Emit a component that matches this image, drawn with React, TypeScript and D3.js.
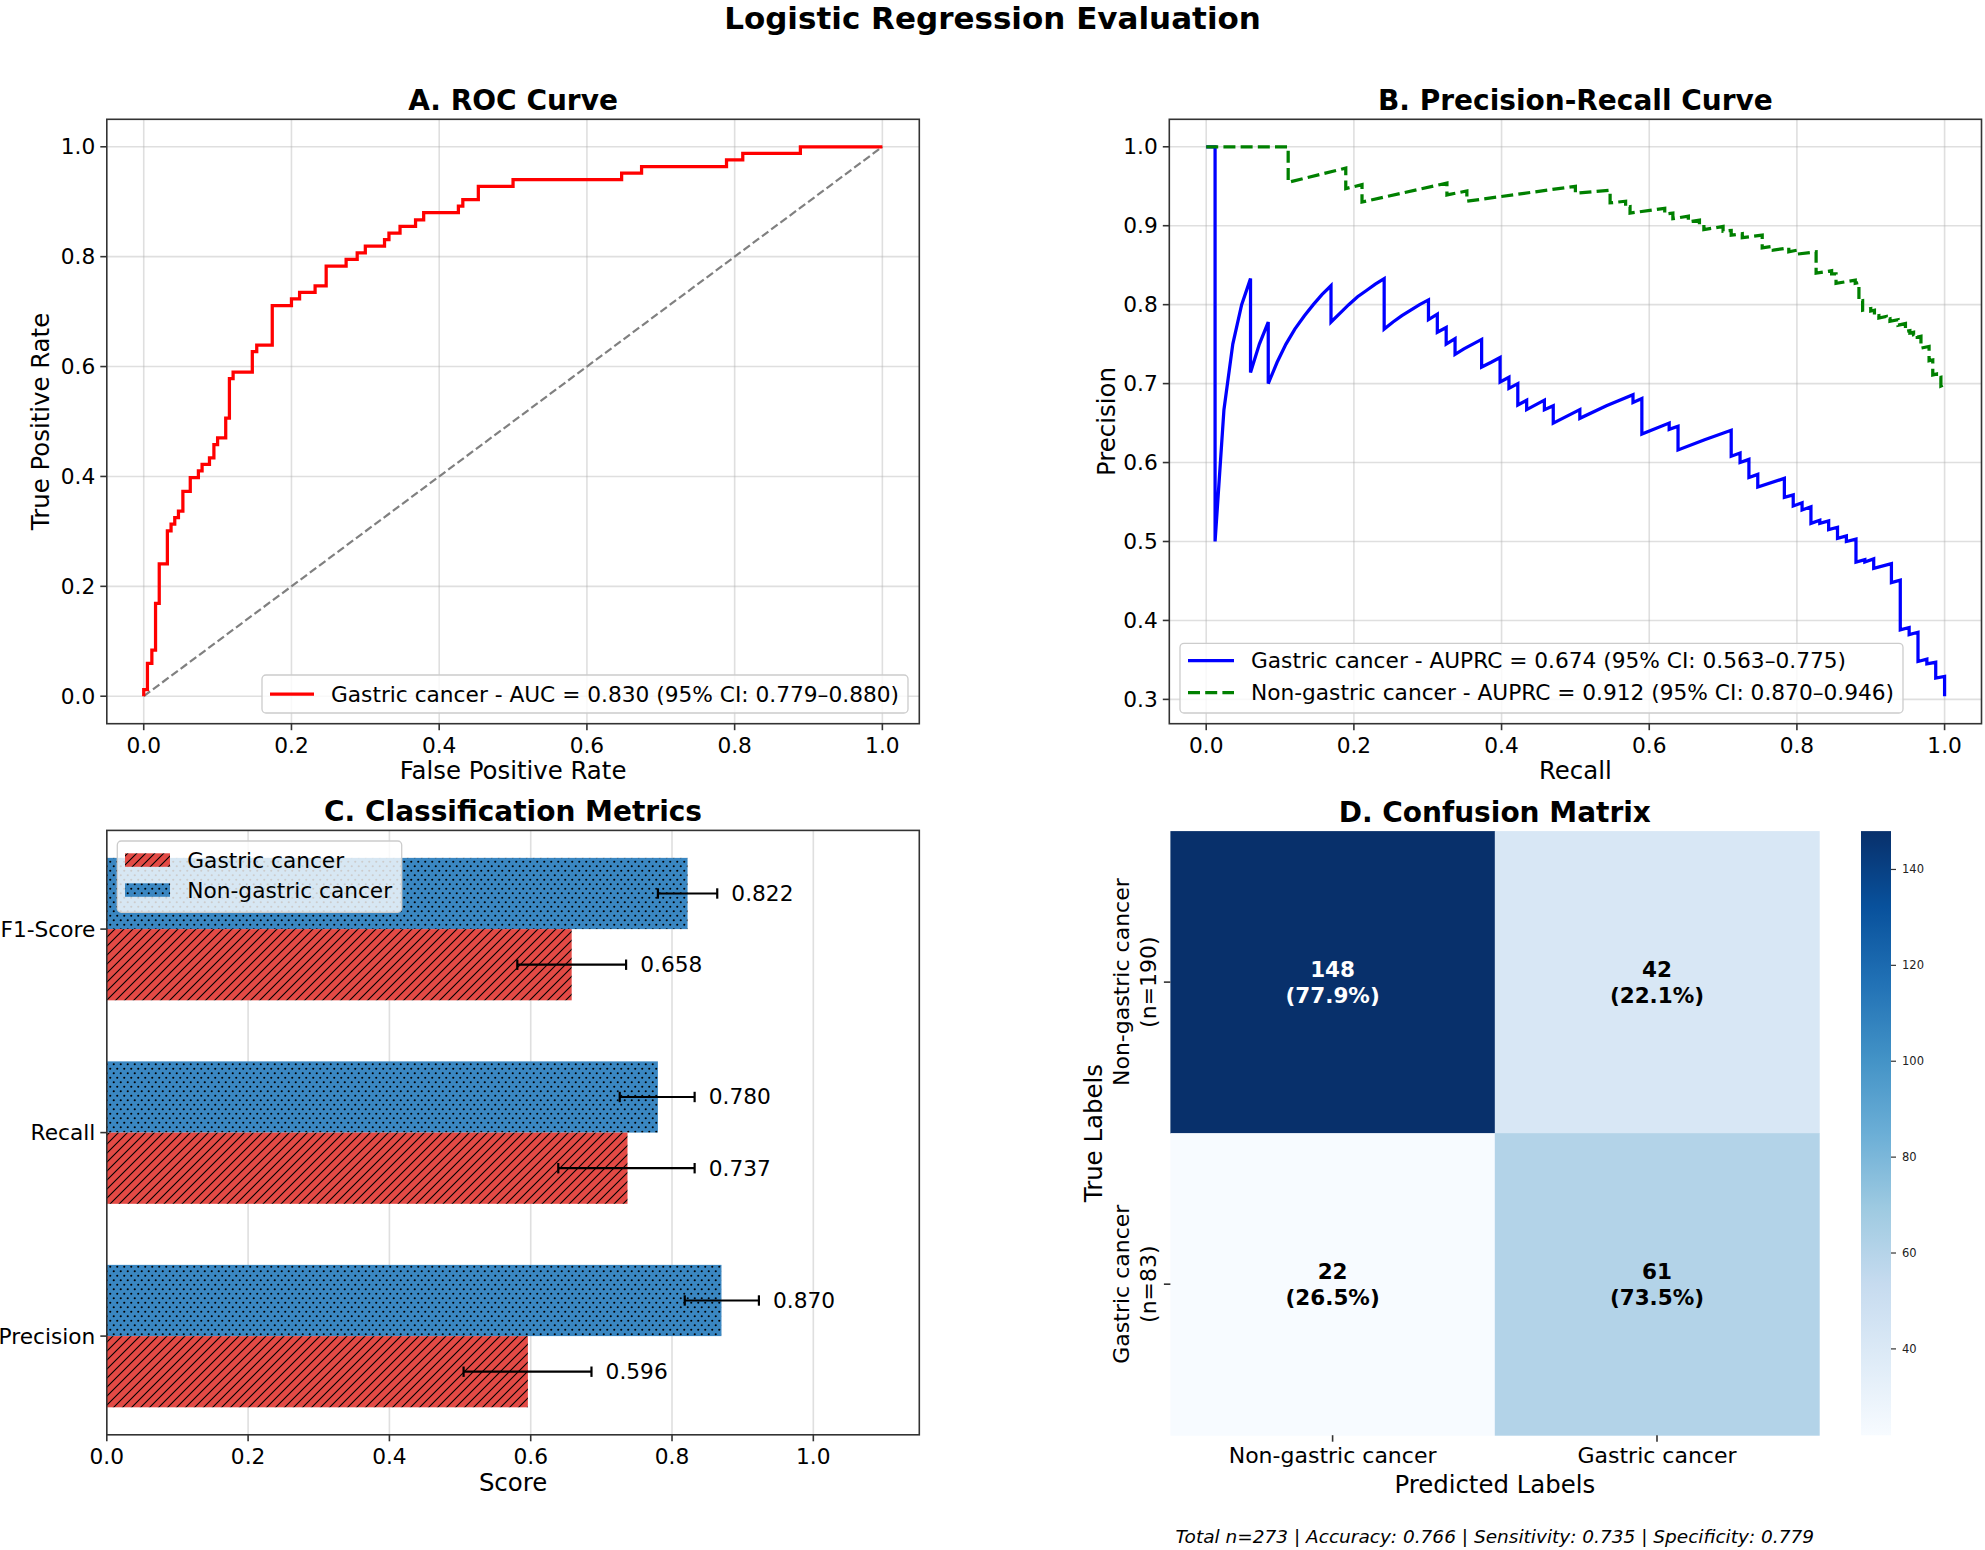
import React from 'react';
import * as d3 from 'd3';

const FONT = "'DejaVu Sans', 'Noto Sans', sans-serif";

// ---------- A. ROC curve (gastric cancer as positive class) ----------
// Each point is where the curve steps up; it then runs horizontally to the next FPR.
const rocFpr = [0.000, 0.000, 0.005, 0.011, 0.016, 0.021, 0.032, 0.037, 0.042, 0.047,
  0.053, 0.063, 0.074, 0.079, 0.089, 0.095, 0.100, 0.111, 0.116, 0.121,
  0.147, 0.153, 0.174, 0.200, 0.211, 0.232, 0.247, 0.274, 0.289, 0.300,
  0.326, 0.332, 0.347, 0.368, 0.379, 0.426, 0.432, 0.453, 0.500, 0.647,
  0.674, 0.789, 0.811, 0.889, 1.000];
const rocTpr = [0.000, 0.012, 0.060, 0.084, 0.169, 0.241, 0.301, 0.313, 0.325, 0.337,
  0.373, 0.398, 0.410, 0.422, 0.434, 0.458, 0.470, 0.506, 0.578, 0.590,
  0.627, 0.639, 0.711, 0.723, 0.735, 0.747, 0.783, 0.795, 0.807, 0.819,
  0.831, 0.843, 0.855, 0.867, 0.880, 0.892, 0.904, 0.928, 0.940, 0.952,
  0.964, 0.976, 0.988, 1.000, 1.000];
const rocLabel = 'Gastric cancer - AUC = 0.830 (95% CI: 0.779–0.880)';

// ---------- B. Precision-recall curves ----------
const prGastricRecall = [0.000, 0.012, 0.012, 0.024, 0.036, 0.048, 0.060, 0.060, 0.072, 0.084,
  0.084, 0.096, 0.108, 0.120, 0.133, 0.145, 0.157, 0.169, 0.169, 0.181,
  0.193, 0.205, 0.217, 0.229, 0.241, 0.241, 0.253, 0.265, 0.277, 0.289,
  0.301, 0.301, 0.313, 0.313, 0.325, 0.325, 0.337, 0.337, 0.349, 0.361,
  0.373, 0.373, 0.386, 0.398, 0.398, 0.410, 0.410, 0.422, 0.422, 0.434,
  0.434, 0.446, 0.458, 0.458, 0.470, 0.470, 0.506, 0.506, 0.542, 0.578,
  0.578, 0.590, 0.590, 0.627, 0.627, 0.639, 0.639, 0.675, 0.711, 0.711,
  0.723, 0.723, 0.735, 0.735, 0.747, 0.747, 0.783, 0.783, 0.795, 0.795,
  0.807, 0.807, 0.819, 0.819, 0.831, 0.831, 0.843, 0.843, 0.855, 0.855,
  0.867, 0.867, 0.880, 0.880, 0.892, 0.892, 0.904, 0.904, 0.928, 0.928,
  0.940, 0.940, 0.952, 0.952, 0.964, 0.964, 0.976, 0.976, 0.988, 0.988,
  1.000, 1.000];
const prGastricPrecision = [1.000, 1.000, 0.500, 0.667, 0.750, 0.800, 0.833, 0.714, 0.750, 0.778,
  0.700, 0.727, 0.750, 0.769, 0.786, 0.800, 0.813, 0.824, 0.778, 0.789,
  0.800, 0.810, 0.818, 0.826, 0.833, 0.769, 0.778, 0.786, 0.793, 0.800,
  0.806, 0.781, 0.788, 0.765, 0.771, 0.750, 0.757, 0.737, 0.744, 0.750,
  0.756, 0.721, 0.727, 0.733, 0.702, 0.708, 0.694, 0.700, 0.673, 0.679,
  0.667, 0.673, 0.679, 0.667, 0.672, 0.650, 0.667, 0.656, 0.672, 0.686,
  0.676, 0.681, 0.636, 0.650, 0.642, 0.646, 0.616, 0.629, 0.641, 0.608,
  0.612, 0.600, 0.604, 0.581, 0.585, 0.569, 0.580, 0.556, 0.559, 0.545,
  0.549, 0.540, 0.544, 0.523, 0.527, 0.523, 0.526, 0.515, 0.518, 0.504,
  0.507, 0.500, 0.503, 0.474, 0.477, 0.474, 0.478, 0.466, 0.472, 0.448,
  0.451, 0.388, 0.391, 0.382, 0.385, 0.348, 0.351, 0.345, 0.347, 0.327,
  0.329, 0.304];
const prNonGastricRecall = [0.000, 0.111, 0.111, 0.189, 0.189, 0.211, 0.211, 0.326, 0.326, 0.353,
  0.353, 0.500, 0.500, 0.547, 0.547, 0.568, 0.568, 0.574, 0.574, 0.621,
  0.621, 0.632, 0.632, 0.653, 0.653, 0.668, 0.668, 0.674, 0.674, 0.700,
  0.700, 0.711, 0.711, 0.726, 0.726, 0.753, 0.753, 0.768, 0.768, 0.789,
  0.789, 0.800, 0.800, 0.826, 0.826, 0.847, 0.847, 0.853, 0.853, 0.879,
  0.879, 0.884, 0.884, 0.889, 0.889, 0.900, 0.900, 0.905, 0.905, 0.911,
  0.911, 0.921, 0.921, 0.926, 0.926, 0.937, 0.937, 0.947, 0.947, 0.953,
  0.953, 0.958, 0.958, 0.963, 0.963, 0.968, 0.968, 0.979, 0.979, 0.984,
  0.984, 0.989, 0.989, 0.995, 0.995, 1.000, 1.000];
const prNonGastricPrecision = [1.000, 1.000, 0.955, 0.973, 0.947, 0.952, 0.930, 0.954, 0.939, 0.944,
  0.931, 0.950, 0.941, 0.945, 0.929, 0.931, 0.923, 0.924, 0.916, 0.922,
  0.915, 0.916, 0.909, 0.912, 0.905, 0.907, 0.901, 0.901, 0.895, 0.899,
  0.893, 0.894, 0.888, 0.890, 0.885, 0.888, 0.872, 0.874, 0.869, 0.872,
  0.867, 0.869, 0.864, 0.867, 0.840, 0.843, 0.839, 0.839, 0.827, 0.831,
  0.827, 0.828, 0.804, 0.805, 0.793, 0.795, 0.792, 0.793, 0.785, 0.786,
  0.783, 0.785, 0.781, 0.782, 0.779, 0.781, 0.774, 0.776, 0.766, 0.767,
  0.764, 0.765, 0.762, 0.763, 0.759, 0.760, 0.745, 0.747, 0.729, 0.730,
  0.711, 0.712, 0.707, 0.708, 0.697, 0.699, 0.696];
const prGastricLabel = 'Gastric cancer - AUPRC = 0.674 (95% CI: 0.563–0.775)';
const prNonGastricLabel = 'Non-gastric cancer - AUPRC = 0.912 (95% CI: 0.870–0.946)';

// ---------- C. Classification metrics (bottom to top) ----------
const metricNames = ['Precision', 'Recall', 'F1-Score'];
const gastricScore = [0.596, 0.737, 0.658];
const gastricLow = [0.505, 0.639, 0.581];
const gastricHigh = [0.686, 0.832, 0.735];
const nonGastricScore = [0.870, 0.780, 0.822];
const nonGastricLow = [0.818, 0.726, 0.780];
const nonGastricHigh = [0.923, 0.832, 0.864];
const seriesNames = ['Gastric cancer', 'Non-gastric cancer'];

// ---------- D. Confusion matrix ----------
const classNames = ['Non-gastric cancer', 'Gastric cancer'];
const confusion = [[148, 42], [22, 61]];
const colorbarTicks = [40, 60, 80, 100, 120, 140];
const summaryText = 'Total n=273 | Accuracy: 0.766 | Sensitivity: 0.735 | Specificity: 0.779';

const unitTicks = [0, 0.2, 0.4, 0.6, 0.8, 1.0];
const precisionTicks = [0.3, 0.4, 0.5, 0.6, 0.7, 0.8, 0.9, 1.0];

const BLUES9 = ['#f7fbff', '#deebf7', '#c6dbef', '#9ecae1', '#6baed6', '#4292c6', '#2171b5', '#08519c', '#08306b'];

const TICK_FS = 21.7;
const LABEL_FS = 24.4;
const TITLE_FS = 28;
const LEGEND_FS = 21.7;
const SPINE = '#333333';
const RED_BAR = '#e34a45';
const BLUE_BAR = '#3a87c2';

type Box = { l: number; r: number; t: number; b: number };
const fmt1 = d3.format('.1f');

function Grid({ box, x, y, xTicks, yTicks }: any) {
  return (
    <g stroke="#b0b0b0" strokeOpacity={0.4} strokeWidth={1.6}>
      {(xTicks || []).map((t: number) => (
        <line key={'gx' + t} x1={x(t)} x2={x(t)} y1={box.t} y2={box.b} />
      ))}
      {(yTicks || []).map((t: number) => (
        <line key={'gy' + t} x1={box.l} x2={box.r} y1={y(t)} y2={y(t)} />
      ))}
    </g>
  );
}

function XTicks({ box, scale, ticks, fmt }: any) {
  return (
    <g>
      {ticks.map((t: any) => (
        <g key={'xt' + t}>
          <line x1={scale(t)} x2={scale(t)} y1={box.b} y2={box.b + 6.5} stroke={SPINE} strokeWidth={1.6} />
          <text x={scale(t)} y={box.b + 21.5} textAnchor="middle" dominantBaseline="central" fontSize={TICK_FS}>
            {fmt(t)}
          </text>
        </g>
      ))}
    </g>
  );
}

function YTicks({ box, scale, ticks, fmt }: any) {
  return (
    <g>
      {ticks.map((t: any) => (
        <g key={'yt' + t}>
          <line x1={box.l - 6.5} x2={box.l} y1={scale(t)} y2={scale(t)} stroke={SPINE} strokeWidth={1.6} />
          <text x={box.l - 11.5} y={scale(t)} textAnchor="end" dominantBaseline="central" fontSize={TICK_FS}>
            {fmt(t)}
          </text>
        </g>
      ))}
    </g>
  );
}

function Spines({ box }: { box: Box }) {
  return (
    <rect x={box.l} y={box.t} width={box.r - box.l} height={box.b - box.t} fill="none" stroke={SPINE} strokeWidth={1.6} />
  );
}

function LegendFrame({ x, y, w, h }: any) {
  return <rect x={x} y={y} width={w} height={h} rx={4} fill="#ffffff" fillOpacity={0.8} stroke="#cccccc" strokeWidth={1.3} />;
}

function luminance(c: string) {
  const rgb = d3.rgb(c);
  const f = (v: number) => {
    const s = v / 255;
    return s <= 0.03928 ? s / 12.92 : Math.pow((s + 0.055) / 1.055, 2.4);
  };
  return 0.2126 * f(rgb.r) + 0.7152 * f(rgb.g) + 0.0722 * f(rgb.b);
}

export default function App() {
  // ----- Panel A -----
  const A: Box = { l: 106.8, r: 919.3, t: 119.3, b: 723.7 };
  const xA = d3.scaleLinear().domain([-0.05, 1.05]).range([A.l, A.r]);
  const yA = d3.scaleLinear().domain([-0.05, 1.05]).range([A.b, A.t]);
  const rocPath = d3
    .line<number>()
    .x((_, i) => xA(rocFpr[i]))
    .y((_, i) => yA(rocTpr[i]))
    .curve(d3.curveStepAfter)(rocFpr);

  // ----- Panel B -----
  const B: Box = { l: 1169.3, r: 1981.5, t: 119.3, b: 723.7 };
  const xB = d3.scaleLinear().domain([-0.05, 1.05]).range([B.l, B.r]);
  const pAll = prGastricPrecision.concat(prNonGastricPrecision);
  const pMin = d3.min(pAll) as number;
  const pMax = d3.max(pAll) as number;
  const pPad = (pMax - pMin) * 0.05;
  const yB = d3.scaleLinear().domain([pMin - pPad, pMax + pPad]).range([B.b, B.t]);
  const prLine = (rs: number[], ps: number[]) =>
    d3
      .line<number>()
      .x((_, i) => xB(rs[i]))
      .y((_, i) => yB(ps[i]))(rs);

  // ----- Panel C -----
  const C: Box = { l: 106.8, r: 919.3, t: 830.4, b: 1434.8 };
  const barH = 0.35;
  const cLo = -barH;
  const cHi = metricNames.length - 1 + barH;
  const cPad = (cHi - cLo) * 0.05;
  const xC = d3.scaleLinear().domain([0, 1.15]).range([C.l, C.r]);
  const yC = d3.scaleLinear().domain([cLo - cPad, cHi + cPad]).range([C.b, C.t]);
  const barGroups = [
    { name: seriesNames[1], score: nonGastricScore, lo: nonGastricLow, hi: nonGastricHigh, offset: barH / 2, fill: 'url(#dotsBlue)' },
    { name: seriesNames[0], score: gastricScore, lo: gastricLow, hi: gastricHigh, offset: -barH / 2, fill: 'url(#hatchRed)' },
  ];

  // ----- Panel D -----
  const D = { l: 1170.4, r: 1819.2, t: 831.1, b: 1435.2 };
  const xD = d3.scaleBand<number>().domain([0, 1]).range([D.l, D.r]);
  const yD = d3.scaleBand<number>().domain([0, 1]).range([D.t, D.b]);
  const flat = confusion.flat();
  const vmin = d3.min(flat) as number;
  const vmax = d3.max(flat) as number;
  const blues = d3
    .scaleLinear<string>()
    .domain(BLUES9.map((_, i) => vmin + (i / 8) * (vmax - vmin)))
    .range(BLUES9)
    .interpolate(d3.interpolateRgb);
  const rowTotals = confusion.map((r) => d3.sum(r));
  const cb = { l: 1861, r: 1891, t: D.t, b: D.b };
  const yCb = d3.scaleLinear().domain([vmin, vmax]).range([cb.b, cb.t]);

  return (
    <svg
      width={1985}
      height={1550}
      viewBox="0 0 1985 1550"
      style={{ position: 'absolute', left: 0, top: 0, background: '#fff' }}
      fontFamily={FONT}
    >
      <defs>
        <pattern id="hatchRed" patternUnits="userSpaceOnUse" width={9} height={9}>
          <rect width={9} height={9} fill={RED_BAR} />
          <path d="M-1,1 L1,-1 M0,9 L9,0 M8,10 L10,8" stroke="#000" strokeWidth={1.1} />
        </pattern>
        <pattern id="dotsBlue" patternUnits="userSpaceOnUse" width={7} height={9}>
          <rect width={7} height={9} fill={BLUE_BAR} />
          <circle cx={1.75} cy={2.25} r={1.05} fill="#000" />
          <circle cx={5.25} cy={6.75} r={1.05} fill="#000" />
        </pattern>
        <linearGradient id="cbGrad" x1="0" y1="1" x2="0" y2="0">
          {BLUES9.map((c, i) => (
            <stop key={c} offset={`${(i / 8) * 100}%`} stopColor={c} />
          ))}
        </linearGradient>
      </defs>

      <rect x={0} y={0} width={1985} height={1550} fill="#fff" />

      <text x={992.5} y={18} textAnchor="middle" dominantBaseline="central" fontSize={31} fontWeight="bold">
        Logistic Regression Evaluation
      </text>

      {/* ---------------- A. ROC curve ---------------- */}
      <g>
        <Grid box={A} x={xA} y={yA} xTicks={unitTicks} yTicks={unitTicks} />
        <line x1={xA(0)} y1={yA(0)} x2={xA(1)} y2={yA(1)} stroke="#808080" strokeWidth={2.2} strokeDasharray="8,3.5" />
        <path d={rocPath || ''} fill="none" stroke="#ff0000" strokeWidth={3.25} strokeLinejoin="miter" />
        <Spines box={A} />
        <XTicks box={A} scale={xA} ticks={unitTicks} fmt={fmt1} />
        <YTicks box={A} scale={yA} ticks={unitTicks} fmt={fmt1} />
        <text x={(A.l + A.r) / 2} y={100} textAnchor="middle" dominantBaseline="central" fontSize={TITLE_FS} fontWeight="bold">
          A. ROC Curve
        </text>
        <text x={(A.l + A.r) / 2} y={770} textAnchor="middle" dominantBaseline="central" fontSize={LABEL_FS}>
          False Positive Rate
        </text>
        <text transform={`translate(40.3,${(A.t + A.b) / 2}) rotate(-90)`} textAnchor="middle" dominantBaseline="central" fontSize={LABEL_FS}>
          True Positive Rate
        </text>
        <LegendFrame x={262} y={675} w={646} h={38} />
        <line x1={270} x2={314} y1={694} y2={694} stroke="#ff0000" strokeWidth={3.25} />
        <text x={331} y={694} dominantBaseline="central" fontSize={LEGEND_FS}>
          {rocLabel}
        </text>
      </g>

      {/* ---------------- B. Precision-Recall curve ---------------- */}
      <g>
        <Grid box={B} x={xB} y={yB} xTicks={unitTicks} yTicks={precisionTicks} />
        <path d={prLine(prGastricRecall, prGastricPrecision) || ''} fill="none" stroke="#0000ff" strokeWidth={3.25} />
        <path
          d={prLine(prNonGastricRecall, prNonGastricPrecision) || ''}
          fill="none"
          stroke="#008000"
          strokeWidth={3.25}
          strokeDasharray="12,5.2"
        />
        <Spines box={B} />
        <XTicks box={B} scale={xB} ticks={unitTicks} fmt={fmt1} />
        <YTicks box={B} scale={yB} ticks={precisionTicks} fmt={fmt1} />
        <text x={(B.l + B.r) / 2} y={100} textAnchor="middle" dominantBaseline="central" fontSize={TITLE_FS} fontWeight="bold">
          B. Precision-Recall Curve
        </text>
        <text x={(B.l + B.r) / 2} y={770} textAnchor="middle" dominantBaseline="central" fontSize={LABEL_FS}>
          Recall
        </text>
        <text transform={`translate(1106.6,${(B.t + B.b) / 2}) rotate(-90)`} textAnchor="middle" dominantBaseline="central" fontSize={LABEL_FS}>
          Precision
        </text>
        <LegendFrame x={1180} y={643.4} w={723} h={69.6} />
        <line x1={1188} x2={1234} y1={660.5} y2={660.5} stroke="#0000ff" strokeWidth={3.25} />
        <text x={1251} y={660.5} dominantBaseline="central" fontSize={LEGEND_FS}>
          {prGastricLabel}
        </text>
        <line x1={1188} x2={1234} y1={692.5} y2={692.5} stroke="#008000" strokeWidth={3.25} strokeDasharray="12,5.2" />
        <text x={1251} y={692.5} dominantBaseline="central" fontSize={LEGEND_FS}>
          {prNonGastricLabel}
        </text>
      </g>

      {/* ---------------- C. Classification metrics ---------------- */}
      <g>
        <Grid box={C} x={xC} y={yC} xTicks={unitTicks} />
        {barGroups.map((g) =>
          metricNames.map((m, i) => {
            const yc = i + g.offset;
            return (
              <g key={g.name + m}>
                <rect
                  x={xC(0)}
                  y={yC(yc + barH / 2)}
                  width={xC(g.score[i]) - xC(0)}
                  height={yC(yc - barH / 2) - yC(yc + barH / 2)}
                  fill={g.fill}
                />
              </g>
            );
          })
        )}
        {barGroups.map((g) =>
          metricNames.map((m, i) => {
            const yc = yC(i + g.offset);
            return (
              <g key={'e' + g.name + m}>
                <line x1={xC(g.lo[i])} x2={xC(g.hi[i])} y1={yc} y2={yc} stroke="#000" strokeWidth={2.2} />
                <line x1={xC(g.lo[i])} x2={xC(g.lo[i])} y1={yc - 5.2} y2={yc + 5.2} stroke="#000" strokeWidth={2.2} />
                <line x1={xC(g.hi[i])} x2={xC(g.hi[i])} y1={yc - 5.2} y2={yc + 5.2} stroke="#000" strokeWidth={2.2} />
                <text x={xC(g.hi[i] + 0.02)} y={yc} dominantBaseline="central" fontSize={TICK_FS}>
                  {d3.format('.3f')(g.score[i])}
                </text>
              </g>
            );
          })
        )}
        <Spines box={C} />
        <XTicks box={C} scale={xC} ticks={unitTicks} fmt={fmt1} />
        <YTicks box={C} scale={(i: number) => yC(i)} ticks={[0, 1, 2]} fmt={(i: number) => metricNames[i]} />
        <text x={(C.l + C.r) / 2} y={811} textAnchor="middle" dominantBaseline="central" fontSize={TITLE_FS} fontWeight="bold">
          C. Classification Metrics
        </text>
        <text x={(C.l + C.r) / 2} y={1482} textAnchor="middle" dominantBaseline="central" fontSize={LABEL_FS}>
          Score
        </text>
        <LegendFrame x={117.3} y={841} w={284.4} h={71.3} />
        <rect x={125} y={853.3} width={45} height={13.5} fill="url(#hatchRed)" />
        <text x={187.3} y={860} dominantBaseline="central" fontSize={LEGEND_FS}>
          {seriesNames[0]}
        </text>
        <rect x={125} y={883.3} width={45} height={13.5} fill="url(#dotsBlue)" />
        <text x={187.3} y={890} dominantBaseline="central" fontSize={LEGEND_FS}>
          {seriesNames[1]}
        </text>
      </g>

      {/* ---------------- D. Confusion matrix ---------------- */}
      <g>
        {confusion.map((row, i) =>
          row.map((v, j) => {
            const fill = blues(v);
            const txt = luminance(fill) > 0.408 ? '#000' : '#fff';
            const cx = (xD(j) as number) + xD.bandwidth() / 2;
            const cy = (yD(i) as number) + yD.bandwidth() / 2;
            return (
              <g key={`c${i}${j}`}>
                <rect x={xD(j)} y={yD(i)} width={xD.bandwidth() + 0.5} height={yD.bandwidth() + 0.5} fill={fill} />
                <text x={cx} y={cy - 12.9} textAnchor="middle" dominantBaseline="central" fontSize={21.5} fontWeight="bold" fill={txt}>
                  {v}
                </text>
                <text x={cx} y={cy + 12.9} textAnchor="middle" dominantBaseline="central" fontSize={21.5} fontWeight="bold" fill={txt}>
                  {`(${((v / rowTotals[i]) * 100).toFixed(1)}%)`}
                </text>
              </g>
            );
          })
        )}
        {classNames.map((n, j) => {
          const cx = (xD(j) as number) + xD.bandwidth() / 2;
          return (
            <g key={'xl' + n}>
              <line x1={cx} x2={cx} y1={D.b} y2={D.b + 6.5} stroke={SPINE} strokeWidth={1.6} />
              <text x={cx} y={1455.3} textAnchor="middle" dominantBaseline="central" fontSize={22}>
                {n}
              </text>
            </g>
          );
        })}
        {classNames.map((n, i) => {
          const cy = (yD(i) as number) + yD.bandwidth() / 2;
          return (
            <g key={'yl' + n}>
              <line x1={D.l - 6.5} x2={D.l} y1={cy} y2={cy} stroke={SPINE} strokeWidth={1.6} />
              <text transform={`translate(1121.6,${cy}) rotate(-90)`} textAnchor="middle" dominantBaseline="central" fontSize={22}>
                {n}
              </text>
              <text transform={`translate(1148.4,${cy}) rotate(-90)`} textAnchor="middle" dominantBaseline="central" fontSize={22}>
                {`(n=${rowTotals[i]})`}
              </text>
            </g>
          );
        })}
        <rect x={cb.l} y={cb.t} width={cb.r - cb.l} height={cb.b - cb.t} fill="url(#cbGrad)" />
        {colorbarTicks.map((t) => (
          <g key={'cb' + t}>
            <line x1={cb.r} x2={cb.r + 5} y1={yCb(t)} y2={yCb(t)} stroke={SPINE} strokeWidth={1.2} />
            <text x={1902} y={yCb(t)} dominantBaseline="central" fontSize={11.5} fill="#222">
              {t}
            </text>
          </g>
        ))}
        <text x={(D.l + D.r) / 2} y={812} textAnchor="middle" dominantBaseline="central" fontSize={TITLE_FS} fontWeight="bold">
          D. Confusion Matrix
        </text>
        <text x={(D.l + D.r) / 2} y={1484} textAnchor="middle" dominantBaseline="central" fontSize={LABEL_FS}>
          Predicted Labels
        </text>
        <text transform={`translate(1093,${(D.t + D.b) / 2}) rotate(-90)`} textAnchor="middle" dominantBaseline="central" fontSize={LABEL_FS}>
          True Labels
        </text>
        <text x={(D.l + D.r) / 2} y={1536.6} textAnchor="middle" dominantBaseline="central" fontSize={18.5} fontStyle="italic">
          {summaryText}
        </text>
      </g>
    </svg>
  );
}
